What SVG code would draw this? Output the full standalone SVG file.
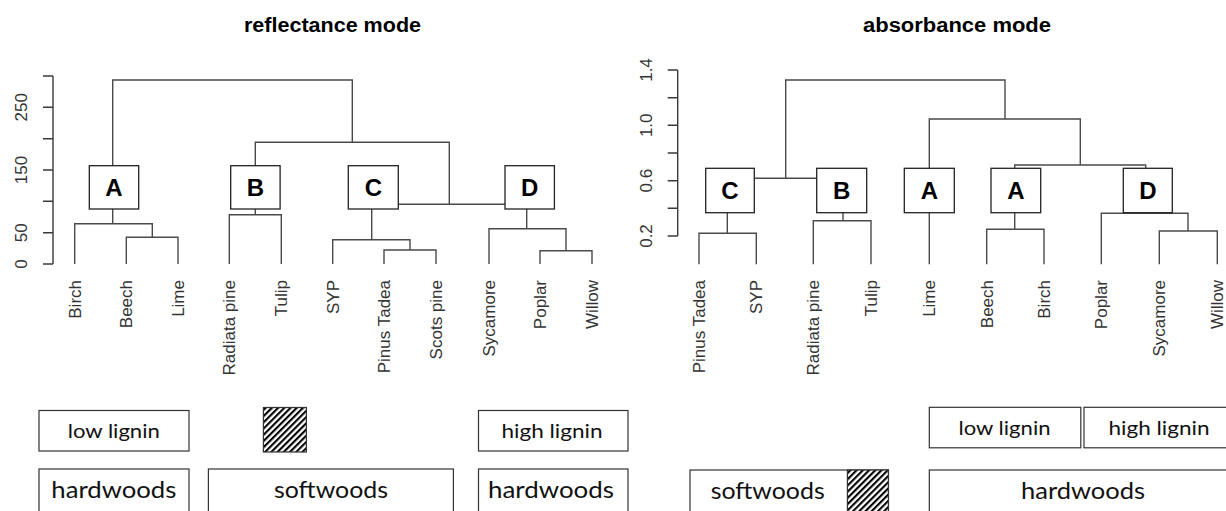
<svg xmlns="http://www.w3.org/2000/svg" width="1226" height="511" viewBox="0 0 1226 511">
<defs>
<style>
.title{font-family:"Liberation Sans",Arial,sans-serif;font-weight:bold;font-size:20px;fill:#000;text-anchor:middle}
.ln{fill:none;stroke:#4a4a4a;stroke-width:1.4}
.ax{fill:none;stroke:#3a3a3a;stroke-width:1.4}
.tick{font-family:"Liberation Sans",Arial,sans-serif;font-size:17px;fill:#333;text-anchor:middle}
.leaf{font-family:"Liberation Sans",Arial,sans-serif;font-size:17px;fill:#333;text-anchor:end}
.box{fill:#fff;stroke:#222;stroke-width:1.3}
.let{font-family:"Liberation Sans",Arial,sans-serif;font-weight:bold;font-size:24px;fill:#000;text-anchor:middle}
.lg{fill:#fff;stroke:#333;stroke-width:1.2}
.lt{font-family:Lato,"Open Sans",sans-serif;fill:#111;text-anchor:middle}
.s{font-size:19px}
.b{font-size:23px}
</style>
<pattern id="hatch" patternUnits="userSpaceOnUse" width="4.4" height="4.4" patternTransform="rotate(45)">
<rect width="4.4" height="4.4" fill="#fff"/>
<rect width="2.1" height="4.4" fill="#000"/>
</pattern>
</defs>

<g id="titles">
<text class="title" x="332.5" y="32" textLength="177" lengthAdjust="spacingAndGlyphs">reflectance mode</text>
<text class="title" x="957" y="32" textLength="188" lengthAdjust="spacingAndGlyphs">absorbance mode</text>
</g>

<g id="axis-left">
<path class="ax" d="M53 76V264M43 76H53M43 107.3H53M43 138.7H53M43 170H53M43 201.3H53M43 232.7H53M43 264H53"/>
<text class="tick" transform="translate(27,264) rotate(-90)">0</text>
<text class="tick" transform="translate(27,232.7) rotate(-90)">50</text>
<text class="tick" transform="translate(27,170) rotate(-90)">150</text>
<text class="tick" transform="translate(27,107.3) rotate(-90)">250</text>
</g>

<g id="axis-right">
<path class="ax" d="M677.7 70V236M667.7 70H677.7M667.7 97.7H677.7M667.7 125.3H677.7M667.7 153H677.7M667.7 180.7H677.7M667.7 208.3H677.7M667.7 236H677.7"/>
<text class="tick" transform="translate(652,70) rotate(-90)">1.4</text>
<text class="tick" transform="translate(652,125.3) rotate(-90)">1.0</text>
<text class="tick" transform="translate(652,180.7) rotate(-90)">0.6</text>
<text class="tick" transform="translate(652,236) rotate(-90)">0.2</text>
</g>

<g id="connectors">
<path class="ln" d="M112.7 166V80H352.3V142.3M255.3 166V142.3H449.3V204.3M398.3 204.3H505"/>
<path class="ln" d="M112.7 209V223.7M74.7 264V223.7H152.3V237.3M126.3 264V237.3H178V264"/>
<path class="ln" d="M255.3 209V214.7M229.3 264V214.7H281.3V264"/>
<path class="ln" d="M371.7 209V239.7M332.7 264V239.7H410V250M384 264V250H436V264"/>
<path class="ln" d="M526.7 209V228.7M489 264V228.7H566V250.7M540 264V250.7H592V264"/>
<path class="ln" d="M785.7 178.3V80H1005V119M754.3 178.3H816.7"/>
<path class="ln" d="M727.3 212.7V233.3M699 264.3V233.3H756.3V264.3"/>
<path class="ln" d="M843 212.7V220.7M813.3 264.3V220.7H871V264.3"/>
<path class="ln" d="M929.3 168.3V119H1080.3V165M929.3 212.7V264.3M1014.7 168.3V165H1145.7V168.3"/>
<path class="ln" d="M1014.7 212.7V229.3M986.7 264.3V229.3H1044V264.3"/>
<path class="ln" d="M1101.3 264.3V213.3H1188V231M1159.3 264.3V231H1217.3V264.3"/>
</g>

<g id="node-refl-A"><rect class="box" x="89.3" y="165.7" width="49.4" height="43.3"/><text class="let" x="114" y="196">A</text></g>
<g id="node-refl-B"><rect class="box" x="230.7" y="165.7" width="49.4" height="43.3"/><text class="let" x="255.4" y="196">B</text></g>
<g id="node-refl-C"><rect class="box" x="348.3" y="165.7" width="50" height="43.3"/><text class="let" x="373.3" y="196">C</text></g>
<g id="node-refl-D"><rect class="box" x="505" y="165.7" width="49.4" height="43.3"/><text class="let" x="529.7" y="196">D</text></g>

<g id="node-abs-C"><rect class="box" x="705.7" y="168.3" width="48.6" height="44.4"/><text class="let" x="730" y="199">C</text></g>
<g id="node-abs-B"><rect class="box" x="816.7" y="168.3" width="50" height="44.4"/><text class="let" x="841.7" y="199">B</text></g>
<g id="node-abs-A1"><rect class="box" x="904.3" y="168.3" width="50" height="44.4"/><text class="let" x="929.3" y="199">A</text></g>
<g id="node-abs-A2"><rect class="box" x="991" y="168.3" width="49.7" height="44.4"/><text class="let" x="1015.8" y="199">A</text></g>
<g id="node-abs-D"><rect class="box" x="1123.3" y="168.3" width="49" height="44.4"/><text class="let" x="1147.8" y="199">D</text></g>

<g id="leaves-left">
<text class="leaf" transform="translate(80.7,280) rotate(-90)">Birch</text>
<text class="leaf" transform="translate(132.3,280) rotate(-90)">Beech</text>
<text class="leaf" transform="translate(184,280) rotate(-90)">Lime</text>
<text class="leaf" transform="translate(235.3,280) rotate(-90)">Radiata pine</text>
<text class="leaf" transform="translate(287.3,280) rotate(-90)">Tulip</text>
<text class="leaf" transform="translate(338.7,280) rotate(-90)">SYP</text>
<text class="leaf" transform="translate(390,280) rotate(-90)">Pinus Tadea</text>
<text class="leaf" transform="translate(442,280) rotate(-90)">Scots pine</text>
<text class="leaf" transform="translate(495,280) rotate(-90)">Sycamore</text>
<text class="leaf" transform="translate(546,280) rotate(-90)">Poplar</text>
<text class="leaf" transform="translate(598,280) rotate(-90)">Willow</text>
</g>

<g id="leaves-right">
<text class="leaf" transform="translate(705,280) rotate(-90)">Pinus Tadea</text>
<text class="leaf" transform="translate(762.3,280) rotate(-90)">SYP</text>
<text class="leaf" transform="translate(819.3,280) rotate(-90)">Radiata pine</text>
<text class="leaf" transform="translate(877,280) rotate(-90)">Tulip</text>
<text class="leaf" transform="translate(935.3,280) rotate(-90)">Lime</text>
<text class="leaf" transform="translate(992.7,280) rotate(-90)">Beech</text>
<text class="leaf" transform="translate(1050,280) rotate(-90)">Birch</text>
<text class="leaf" transform="translate(1107.3,280) rotate(-90)">Poplar</text>
<text class="leaf" transform="translate(1165.3,280) rotate(-90)">Sycamore</text>
<text class="leaf" transform="translate(1223,280) rotate(-90)">Willow</text>
</g>

<g id="legend-left-low-lignin"><rect class="lg" x="39" y="410.5" width="150" height="40.5"/><text class="lt s" x="113.8" y="438" textLength="92" lengthAdjust="spacingAndGlyphs">low lignin</text></g>
<g id="legend-left-hatch"><rect class="lg" x="263.4" y="407.5" width="43" height="44.5" style="fill:url(#hatch)"/></g>
<g id="legend-left-high-lignin"><rect class="lg" x="478.5" y="410.5" width="149.5" height="40.5"/><text class="lt s" x="552" y="438" textLength="101" lengthAdjust="spacingAndGlyphs">high lignin</text></g>
<g id="legend-left-hardwoods1"><rect class="lg" x="39" y="469" width="150" height="60"/><text class="lt b" x="113.8" y="498" textLength="125" lengthAdjust="spacingAndGlyphs">hardwoods</text></g>
<g id="legend-left-softwoods"><rect class="lg" x="208.4" y="469" width="245" height="60"/><text class="lt b" x="331" y="498" textLength="114" lengthAdjust="spacingAndGlyphs">softwoods</text></g>
<g id="legend-left-hardwoods2"><rect class="lg" x="478.5" y="469" width="149.5" height="60"/><text class="lt b" x="551" y="498" textLength="126" lengthAdjust="spacingAndGlyphs">hardwoods</text></g>

<g id="legend-right-low-lignin"><rect class="lg" x="929.3" y="407.3" width="151.5" height="40.5"/><text class="lt s" x="1004.5" y="435" textLength="92" lengthAdjust="spacingAndGlyphs">low lignin</text></g>
<g id="legend-right-high-lignin"><rect class="lg" x="1084" y="407.3" width="150" height="40.5"/><text class="lt s" x="1159" y="435" textLength="101" lengthAdjust="spacingAndGlyphs">high lignin</text></g>
<g id="legend-right-softwoods"><rect class="lg" x="690" y="470" width="198.5" height="60"/><rect x="847.4" y="470" width="41" height="60" style="fill:url(#hatch);stroke:#333;stroke-width:1.2"/><text class="lt b" x="767.7" y="499" textLength="114" lengthAdjust="spacingAndGlyphs">softwoods</text></g>
<g id="legend-right-hardwoods"><rect class="lg" x="929.3" y="470" width="305" height="60"/><text class="lt b" x="1083" y="499" textLength="124" lengthAdjust="spacingAndGlyphs">hardwoods</text></g>
</svg>
